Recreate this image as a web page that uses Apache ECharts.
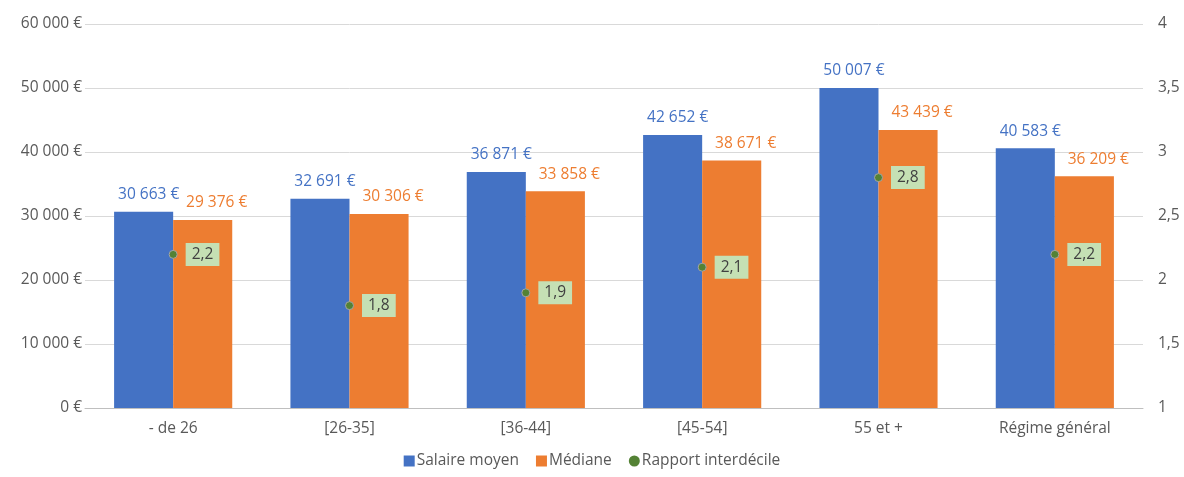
<!DOCTYPE html>
<html>
<head>
<meta charset="utf-8">
<script src="https://cdn.jsdelivr.net/npm/echarts@6/dist/echarts.min.js"></script>
<style>
  html, body { margin: 0; padding: 0; background: #ffffff; }
  #chart { width: 1184px; height: 477px; }
</style>
</head>
<body>
<div id="chart"></div>
<script>
// Salaires par tranche d'âge
const categories = ['- de 26', '[26-35]', '[36-44]', '[45-54]', '55 et +', 'Régime général'];
const salaireMoyen = [30663, 32691, 36871, 42652, 50007, 40583];
const mediane = [29376, 30306, 33858, 38671, 43439, 36209];
const rapportInterdecile = [2.2, 1.8, 1.9, 2.1, 2.8, 2.2];

const FONT = '"Open Sans", "Noto Sans", sans-serif';
const SIZE = 15.5;
const TEXT = '#595959';

function euro(v) {
  return String(Math.round(v)).replace(/\B(?=(\d{3})+(?!\d))/g, ' ') + ' €';
}
function comma(v) {
  return String(v).replace('.', ',');
}

const chart = echarts.init(document.getElementById('chart'));
chart.setOption({
  animation: false,
  textStyle: { fontFamily: FONT },
  grid: { left: 85, right: 41, top: 24, bottom: 69 },
  legend: {
    bottom: 3,
    itemGap: 17,
    itemWidth: 11,
    itemHeight: 11,
    textStyle: { fontFamily: FONT, fontSize: SIZE, color: TEXT, padding: [0, 0, 0, -3] },
    data: [
      { name: 'Salaire moyen', icon: 'rect' },
      { name: 'Médiane', icon: 'rect' },
      { name: 'Rapport interdécile', icon: 'circle', itemStyle: { borderWidth: 0 } }
    ]
  },
  xAxis: {
    type: 'category',
    data: categories,
    axisLine: { lineStyle: { color: '#bfbfbf' } },
    axisTick: { show: false },
    axisLabel: { color: TEXT, fontSize: SIZE, margin: 13, fontFamily: FONT }
  },
  yAxis: [
    {
      type: 'value',
      min: 0, max: 60000, interval: 10000,
      axisLine: { show: false },
      axisTick: { show: false },
      splitLine: { lineStyle: { color: '#d9d9d9' } },
      axisLabel: { color: TEXT, fontSize: SIZE, margin: 3, fontFamily: FONT, formatter: euro }
    },
    {
      type: 'value',
      min: 1, max: 4, interval: 0.5,
      axisLine: { show: false },
      axisTick: { show: false },
      splitLine: { show: false },
      axisLabel: { color: TEXT, fontSize: SIZE, margin: 15, fontFamily: FONT, formatter: comma }
    }
  ],
  series: [
    {
      name: 'Salaire moyen',
      type: 'bar',
      data: salaireMoyen,
      barGap: '0%',
      barCategoryGap: '33%',
      itemStyle: { color: '#4472C4' },
      label: {
        show: true, position: 'top', distance: 9, offset: [5, 0],
        color: '#4472C4', fontSize: SIZE, fontFamily: FONT,
        formatter: p => euro(p.value)
      }
    },
    {
      name: 'Médiane',
      type: 'bar',
      data: mediane,
      itemStyle: { color: '#ED7D31' },
      label: {
        show: true, position: 'top', distance: 9, offset: [14, 0],
        color: '#ED7D31', fontSize: SIZE, fontFamily: FONT,
        formatter: p => euro(p.value)
      }
    },
    {
      name: 'Rapport interdécile',
      type: 'line',
      yAxisIndex: 1,
      data: rapportInterdecile,
      lineStyle: { width: 0, opacity: 0 },
      symbol: 'circle',
      symbolSize: 8,
      itemStyle: { color: '#548235', borderColor: '#a5a5a5', borderWidth: 1 },
      label: {
        show: true, position: 'right', distance: 8,
        backgroundColor: '#C5E0B4',
        padding: [4, 6, 3, 6],
        color: '#404040', fontSize: SIZE, fontFamily: FONT,
        formatter: p => comma(p.value)
      },
      z: 5
    }
  ]
});
</script>
</body>
</html>
